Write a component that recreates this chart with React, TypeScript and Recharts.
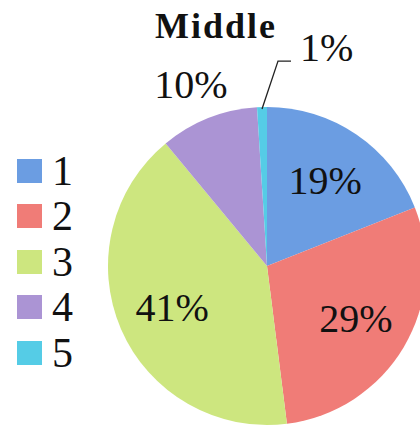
import React from 'react';
import { PieChart, Pie, Cell } from 'recharts';

const categories = ['1', '2', '3', '4', '5'];
const shares = [19, 29, 41, 10, 1];
const colors = ['#6b9de2', '#f07c77', '#cde67f', '#ab94d4', '#55cce6'];
const title = 'Middle';

const data = categories.map((name, i) => ({ name, value: shares[i] }));

const RAD = Math.PI / 180;
const serif = '"Liberation Serif", "DejaVu Serif", serif';

function renderLabel(props: any) {
  const { cx, cy, midAngle, outerRadius, percent, index } = props;
  const text = `${Math.round(percent * 100)}%`;
  const cos = Math.cos(-midAngle * RAD);
  const sin = Math.sin(-midAngle * RAD);
  const style = { fontFamily: serif, fontSize: 40, fill: '#111' };

  if (percent >= 0.15) {
    const r = outerRadius * 0.65;
    return (
      <text key={index} x={cx + r * cos} y={cy + r * sin} textAnchor="middle" dominantBaseline="central" style={style}>
        {text}
      </text>
    );
  }
  if (percent >= 0.05) {
    const r = outerRadius * 1.23;
    return (
      <text key={index} x={cx + r * cos - 4} y={cy + r * sin} textAnchor="middle" dominantBaseline="central" style={style}>
        {text}
      </text>
    );
  }
  // tiny slice: leader line up and to the right
  const ex = cx + outerRadius * cos;
  const ey = cy + outerRadius * sin;
  const kx = ex + 16;
  const ky = ey - 46;
  return (
    <g key={index}>
      <path d={`M${ex},${ey + 2}L${kx},${ky}L${kx + 13},${ky}`} stroke="#222" strokeWidth={1.3} fill="none" />
      <text x={kx + 22} y={ky} textAnchor="start" style={style}>
        {text}
      </text>
    </g>
  );
}

function LegendBox() {
  return (
    <div style={{ position: 'absolute', left: 17, top: 148, zIndex: 2 }}>
      {categories.map((name, i) => (
        <div key={name} style={{ display: 'flex', alignItems: 'center', height: 45.5 }}>
          <div style={{ width: 25, height: 24, background: colors[i], marginRight: 10 }} />
          <span style={{ fontFamily: serif, fontSize: 42, lineHeight: 1, color: '#111' }}>{name}</span>
        </div>
      ))}
    </div>
  );
}

export default function App() {
  return (
    <div style={{ position: 'absolute', left: 0, top: 0, width: 420, height: 428, background: '#fff', overflow: 'hidden' }}>
      <div
        style={{
          position: 'absolute',
          left: 155,
          top: 8,
          fontFamily: serif,
          fontWeight: 'bold',
          fontSize: 36,
          letterSpacing: 2,
          lineHeight: 1,
          color: '#111',
          zIndex: 2,
        }}
      >
        {title}
      </div>
      <LegendBox />
      <PieChart width={420} height={428} margin={{ top: 0, right: 0, bottom: 0, left: 0 }}>
        <Pie
          data={data}
          dataKey="value"
          nameKey="name"
          cx={267}
          cy={266}
          outerRadius={159}
          startAngle={90}
          endAngle={-270}
          stroke="none"
          label={renderLabel}
          labelLine={false}
          isAnimationActive={false}
        >
          {data.map((d, i) => (
            <Cell key={d.name} fill={colors[i]} />
          ))}
        </Pie>
      </PieChart>
    </div>
  );
}
